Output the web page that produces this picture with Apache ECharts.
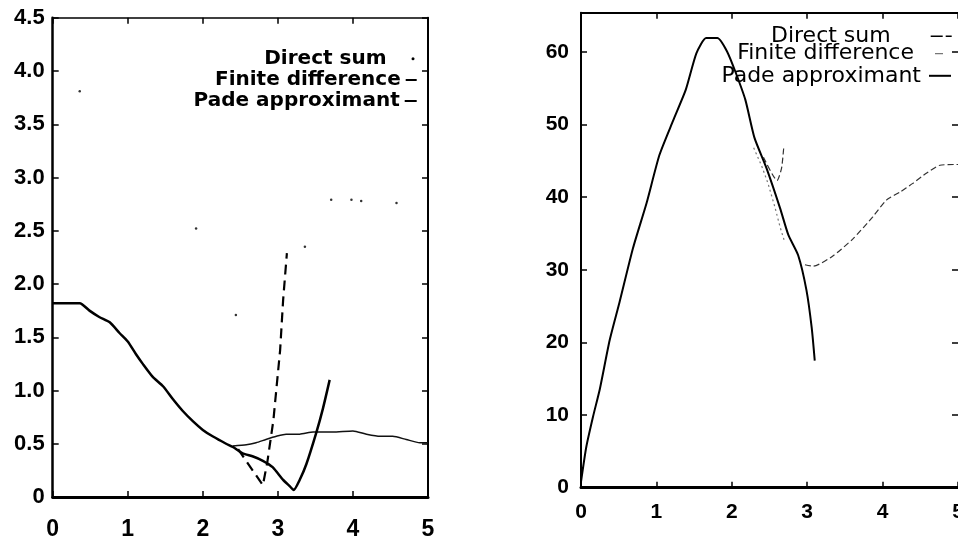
<!DOCTYPE html>
<html><head><meta charset="utf-8">
<script src="https://cdn.jsdelivr.net/npm/echarts@6/dist/echarts.min.js"></script>
<style>html,body{margin:0;padding:0;background:#fff;}#c{width:958px;height:539px;}</style>
</head><body><div id="c"></div>
<script>
// ---------- data: left panel ----------
const xTicks = [0, 1, 2, 3, 4, 5];
const leftYTicks = [0, 0.5, 1.0, 1.5, 2.0, 2.5, 3.0, 3.5, 4.0, 4.5];
const rightYTicks = [0, 10, 20, 30, 40, 50, 60];

const leftPade = [[0,1.82],[0.36,1.82],[0.49,1.75],[0.62,1.69],[0.76,1.64],[0.89,1.54],[1.0,1.46],[1.11,1.34],[1.2,1.25],[1.33,1.13],[1.47,1.04],[1.6,0.92],[1.73,0.81],[1.87,0.71],[2.0,0.63],[2.13,0.57],[2.31,0.50],[2.4,0.47],[2.53,0.41],[2.67,0.38],[2.8,0.34],[2.93,0.28],[3.07,0.16],[3.16,0.10],[3.21,0.065],[3.29,0.16],[3.38,0.31],[3.51,0.6],[3.6,0.83],[3.69,1.10]];
const leftFinite = [[2.47,0.45],[2.8,0.11],[2.86,0.33],[2.94,0.72],[3.03,1.38],[3.07,1.85],[3.12,2.29]];
const leftDirect = [[2.4,0.48],[2.58,0.49],[2.71,0.51],[2.84,0.54],[2.98,0.57],[3.11,0.59],[3.29,0.59],[3.47,0.61],[3.73,0.61],[4.0,0.62],[4.18,0.59],[4.36,0.57],[4.53,0.57],[4.71,0.54],[4.89,0.51],[5.0,0.51]];
const leftDirectDots = [[0.36,3.81],[1.91,2.52],[2.44,1.71],[3.36,2.35],[3.71,2.79],[3.98,2.79],[4.11,2.78],[4.58,2.76]];

// ---------- data: right panel ----------
const rightPade = [[0,0.8],[0.07,5.6],[0.16,9.8],[0.25,13.6],[0.38,20.3],[0.51,25.5],[0.69,33],[0.87,39.2],[1.04,45.8],[1.22,50.5],[1.39,54.8],[1.53,59.8],[1.66,61.9],[1.81,61.9],[1.94,60],[2.05,57.2],[2.18,53.4],[2.3,48.2],[2.46,44.0],[2.64,38.5],[2.75,34.8],[2.88,32],[2.99,27.2],[3.06,22.0],[3.1,17.5]];
const rightDirect = [[2.42,45.5],[2.6,42.3],[2.66,44],[2.69,47],[2.8,'-'],[2.97,30.7],[3.08,30.5],[3.34,31.9],[3.61,34.3],[3.87,37.3],[4.05,39.6],[4.23,40.7],[4.4,41.9],[4.58,43.3],[4.76,44.4],[4.98,44.5],[5.0,44.5]];
const rightFinite = [[2.29,46.8],[2.4,44.2],[2.48,41.9],[2.57,38.7],[2.64,35.9],[2.7,33.9]];

const names = ['Direct sum', 'Finite difference', 'Pade approximant'];

const chart = echarts.init(document.getElementById('c'), null, {renderer: 'canvas'});

function xAx(grid, pos, labels, opt) {
  return {
    type: 'value', gridIndex: grid, position: pos, min: 0, max: 5, interval: 1,
    splitLine: {show: false},
    axisLine: {show: opt.line !== false, onZero: false, lineStyle: {color: '#000', width: opt.lw}},
    axisTick: {show: true, inside: true, length: 6, lineStyle: {color: '#000', width: 1.5}},
    axisLabel: labels ? {show: true, margin: opt.margin, color: '#000', fontFamily: 'Liberation Sans',
      fontSize: opt.fs, fontWeight: opt.fw, formatter: v => String(v)} : {show: false}
  };
}
function yAx(grid, pos, labels, opt) {
  return {
    type: 'value', gridIndex: grid, position: pos, min: 0, max: opt.max, interval: opt.interval,
    splitLine: {show: false},
    axisLine: {show: opt.line !== false, onZero: false, lineStyle: {color: '#000', width: opt.lw}},
    axisTick: {show: true, inside: true, length: 6, lineStyle: {color: '#000', width: 1.5}},
    axisLabel: labels ? {show: true, margin: opt.margin, color: '#000', fontFamily: 'Liberation Sans',
      fontSize: opt.fs, fontWeight: opt.fw, formatter: opt.fmt, showMaxLabel: true} : {show: false}
  };
}

function leg(name, o) {
  return {
    data: [name], orient: 'horizontal', align: 'right', padding: 0, itemGap: 0,
    selectedMode: false, right: o.right, top: o.top, icon: o.icon,
    itemWidth: o.w, itemHeight: o.h,
    itemStyle: {color: o.color || '#000', borderWidth: 0},
    formatter: n => n.replace('R:', ''),
    textStyle: {color: '#000', fontFamily: 'DejaVu Sans', fontSize: o.fs, fontWeight: o.fw, padding: o.pad}
  };
}

const option = {
  animation: false,
  backgroundColor: '#fff',
  grid: [
    {left: 52.7, top: 17.75, width: 375.3, height: 479.25, containLabel: false, outerBoundsMode: 'none'},
    {left: 581, top: 12.7, width: 377, height: 475, containLabel: false, outerBoundsMode: 'none'}
  ],
  xAxis: [
    xAx(0, 'bottom', true, {lw: 3, margin: 21, fs: 23, fw: 'bold'}),
    xAx(0, 'top', false, {lw: 1.5}),
    xAx(1, 'bottom', true, {lw: 3, margin: 14, fs: 21, fw: 'bold'}),
    xAx(1, 'top', false, {lw: 2})
  ],
  yAxis: [
    yAx(0, 'left', true, {max: 4.5, interval: 0.5, lw: 2.5, margin: 8, fs: 22, fw: 'bold',
      fmt: v => v === 0 ? '0' : v.toFixed(1)}),
    yAx(0, 'right', false, {max: 4.5, interval: 0.5, lw: 2}),
    yAx(1, 'left', true, {max: 65.4, interval: 10, lw: 2, margin: 12, fs: 21, fw: 'bold',
      fmt: v => (Math.abs(v % 10) < 1e-9 ? String(v) : '')}),
    yAx(1, 'right', false, {max: 65.4, interval: 10, lw: 1.5, line: false})
  ],
  legend: [
    leg('Direct sum', {right: 543.5, top: 48.8, icon: 'circle', w: 3, h: 3, fs: 20, fw: 'bold', pad: [0, 20, 9, 0]}),
    leg('Finite difference', {right: 541.3, top: 70, icon: 'rect', w: 11, h: 2, fs: 20, fw: 'bold', pad: [0, 0, 5, 0]}),
    leg('Pade approximant', {right: 541.3, top: 91, icon: 'rect', w: 12, h: 2, fs: 20, fw: 'bold', pad: [0, 0, 0, 0]}),
    leg('R:Direct sum', {right: 6.3, top: 25.3, icon: 'path://M0,0h12v1.5h-12zM15,0h6v1.5h-6z', w: 21, h: 1.5, fs: 22, fw: 'normal', pad: [0, 35, 2, 0]}),
    leg('R:Finite difference', {right: 15, top: 42.7, icon: 'rect', w: 8, h: 1, color: '#555', fs: 22, fw: 'normal', pad: [0, 16, 6, 0]}),
    leg('R:Pade approximant', {right: 7, top: 64.8, icon: 'rect', w: 22, h: 2, fs: 22, fw: 'normal', pad: [0, 3, 0, 0]})
  ],
  series: [
    {name: names[0], type: 'line', xAxisIndex: 0, yAxisIndex: 0, data: leftDirect, showSymbol: false, symbol: 'none',
      smooth: 0.2, lineStyle: {color: '#111', width: 1.5}, itemStyle: {color: '#000'}},
    {name: names[1], type: 'line', xAxisIndex: 0, yAxisIndex: 0, data: leftFinite, showSymbol: false, symbol: 'none',
      lineStyle: {color: '#000', width: 2.2, type: [10, 6]}, itemStyle: {color: '#000'}},
    {name: names[2], type: 'line', xAxisIndex: 0, yAxisIndex: 0, data: leftPade, showSymbol: false, symbol: 'none',
      smooth: 0.2, lineStyle: {color: '#000', width: 2.5}, itemStyle: {color: '#000'}},
    {name: names[0], type: 'scatter', xAxisIndex: 0, yAxisIndex: 0, data: leftDirectDots, symbol: 'circle', symbolSize: 2.5,
      itemStyle: {color: '#000'}},
    {name: 'R:' + names[0], type: 'line', xAxisIndex: 2, yAxisIndex: 2, data: rightDirect, showSymbol: false, symbol: 'none',
      connectNulls: false, smooth: 0.2, lineStyle: {color: '#333', width: 1.2, type: [6, 3]}, itemStyle: {color: '#000'}},
    {name: 'R:' + names[1], type: 'line', xAxisIndex: 2, yAxisIndex: 2, data: rightFinite, showSymbol: false, symbol: 'none',
      lineStyle: {color: '#777', width: 1.2, type: [2, 3]}, itemStyle: {color: '#555'}},
    {name: 'R:' + names[2], type: 'line', xAxisIndex: 2, yAxisIndex: 2, data: rightPade, showSymbol: false, symbol: 'none',
      smooth: 0.2, lineStyle: {color: '#000', width: 2}, itemStyle: {color: '#000'}}
  ]
};
chart.setOption(option);
</script>
</body></html>
